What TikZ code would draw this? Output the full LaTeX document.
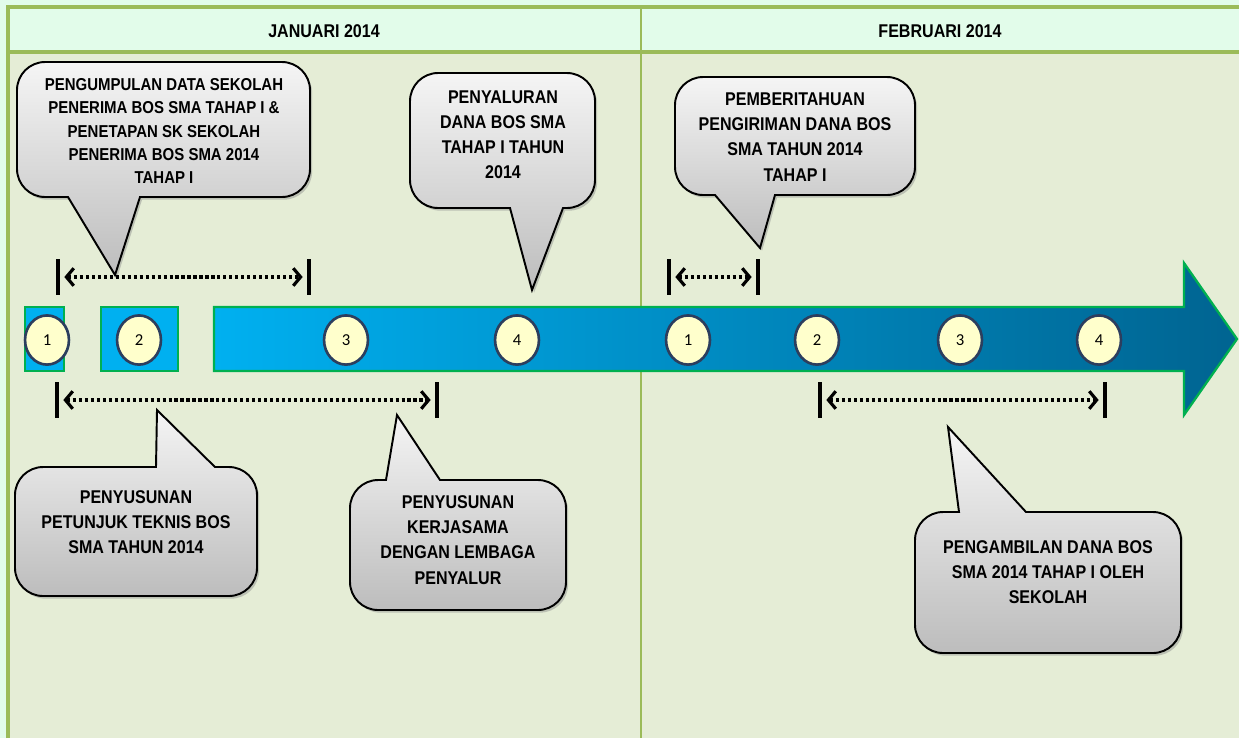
\documentclass[tikz,border=0pt]{standalone}
\usepackage{fontspec}
\setmainfont{Liberation Sans}[FakeStretch=0.87]
\newfontfamily\numfont{Carlito}
\usetikzlibrary{arrows.meta,shapes.geometric,shadows}
\definecolor{mint}{RGB}{226,252,234}
\definecolor{olivebg}{RGB}{229,237,214}
\definecolor{oliveline}{RGB}{155,187,89}
\definecolor{cyanbox}{RGB}{0,176,240}
\definecolor{deepblue}{RGB}{0,100,145}
\definecolor{greenrim}{RGB}{0,176,80}
\definecolor{cream}{RGB}{255,255,204}
\definecolor{navy}{RGB}{44,62,94}
\begin{document}
\begin{tikzpicture}[x=0.02cm,y=-0.02cm,
    bubble/.style={draw=black,line width=1.1pt,top color=gray!8,bottom color=gray!52,
        drop shadow={shadow xshift=1.2pt,shadow yshift=-1.5pt,fill=black!45,opacity=.45}},
    saying/.style={align=center,font=\bfseries\fontsize{10.5}{14.3}\selectfont},
    month/.style={font=\bfseries\fontsize{10.5}{12}\selectfont},
    week/.style={ellipse,draw=navy,line width=1.5pt,fill=cream,minimum width=25pt,minimum height=28pt,
        inner sep=0pt,font=\numfont\fontsize{9.5}{10}\selectfont},
    vbar/.style={rectangle,fill=black,inner sep=0pt,minimum width=1.8pt,minimum height=21pt},
    span/.style={line width=1.8pt,dash pattern=on 1.8pt off 1.6pt,
        {Straight Barb[length=4.2pt,width=10pt]}-{Straight Barb[length=4.2pt,width=10pt]},
        shorten <=2.5pt,shorten >=2.5pt},
    segment/.style={draw=greenrim,line width=1.3pt}]
    \useasboundingbox (0,0) rectangle (1239,738);
    \fill[mint] (0,0) rectangle (1239,738);
    \fill[olivebg] (8,52) rectangle (1239,738);
    \draw[oliveline,line width=1.8pt] (8,738) -- (8,7) -- (1239,7);
    \draw[oliveline,line width=1.8pt] (8,52) -- (1239,52);
    \draw[oliveline,line width=1.5pt] (641,7) -- (641,738);
    \node[month] (jan) at (324,31) {JANUARI 2014};
    \node[month] (feb) at (940,31) {FEBRUARI 2014};

    \draw[segment,fill=cyanbox] (25,307) rectangle (64,371);
    \draw[segment,fill=cyanbox] (101,307) rectangle (178,371);
    \draw[segment,left color=cyanbox,right color=deepblue] (214,307) -- (1184,307) -- (1184,263)
        -- (1237,339) -- (1184,415) -- (1184,371) -- (214,371) -- cycle;
    \node[week] (j1) at (47,340) {1};
    \node[week] (j2) at (139,340) {2};
    \node[week] (j3) at (346,340) {3};
    \node[week] (j4) at (517,340) {4};
    \node[week] (f1) at (688,340) {1};
    \node[week] (f2) at (817,340) {2};
    \node[week] (f3) at (960,340) {3};
    \node[week] (f4) at (1099,340) {4};

    \draw[bubble] (140,197) [rounded corners=16pt] -- (310,197) -- (310,62) -- (17,62) -- (17,197)
        [sharp corners] -- (68,197) -- (115,275) -- cycle;
    \node[saying,font=\bfseries\fontsize{9.8}{13.2}\selectfont] (data) at (164,131)
        {PENGUMPULAN DATA SEKOLAH\\PENERIMA BOS SMA TAHAP I \&\\PENETAPAN SK SEKOLAH\\PENERIMA BOS SMA 2014\\TAHAP I};
    \draw[bubble] (563,208) [rounded corners=16pt] -- (595,208) -- (595,73) -- (410,73) -- (410,208)
        [sharp corners] -- (510,208) -- (532,290) -- cycle;
    \node[saying] (salur) at (503,135) {PENYALURAN\\DANA BOS SMA\\TAHAP I TAHUN\\2014};
    \draw[bubble] (775,195) [rounded corners=16pt] -- (915,195) -- (915,77) -- (675,77) -- (675,195)
        [sharp corners] -- (715,195) -- (760,248) -- cycle;
    \node[saying] (kirim) at (795,137) {PEMBERITAHUAN\\PENGIRIMAN DANA BOS\\SMA TAHUN 2014\\TAHAP I};
    \draw[bubble] (156,467) [rounded corners=16pt] -- (15,467) -- (15,596) -- (257,596) -- (257,467)
        [sharp corners] -- (215,467) -- (157,410) -- cycle;
    \node[saying] (juknis) at (136,522) {PENYUSUNAN\\PETUNJUK TEKNIS BOS\\SMA TAHUN 2014};
    \draw[bubble] (386,480) [rounded corners=16pt] -- (350,480) -- (350,610) -- (566,610) -- (566,480)
        [sharp corners] -- (440,480) -- (397,415) -- cycle;
    \node[saying] (kerja) at (458,540) {PENYUSUNAN\\KERJASAMA\\DENGAN LEMBAGA\\PENYALUR};
    \draw[bubble] (959,512) [rounded corners=16pt] -- (915,512) -- (915,653) -- (1181,653) -- (1181,512)
        [sharp corners] -- (1026,512) -- (948,427) -- cycle;
    \node[saying] (ambil) at (1048,572) {PENGAMBILAN DANA BOS\\SMA 2014 TAHAP I OLEH\\SEKOLAH};

    \node[vbar] (a1) at (58,277) {};
    \node[vbar] (a2) at (309,277) {};
    \draw[span] (a1) -- (a2);
    \node[vbar] (b1) at (57,400) {};
    \node[vbar] (b2) at (437,400) {};
    \draw[span] (b1) -- (b2);
    \node[vbar] (c1) at (669,277) {};
    \node[vbar] (c2) at (758,277) {};
    \draw[span] (c1) -- (c2);
    \node[vbar] (d1) at (820,400) {};
    \node[vbar] (d2) at (1105,400) {};
    \draw[span] (d1) -- (d2);
\end{tikzpicture}
\end{document}
